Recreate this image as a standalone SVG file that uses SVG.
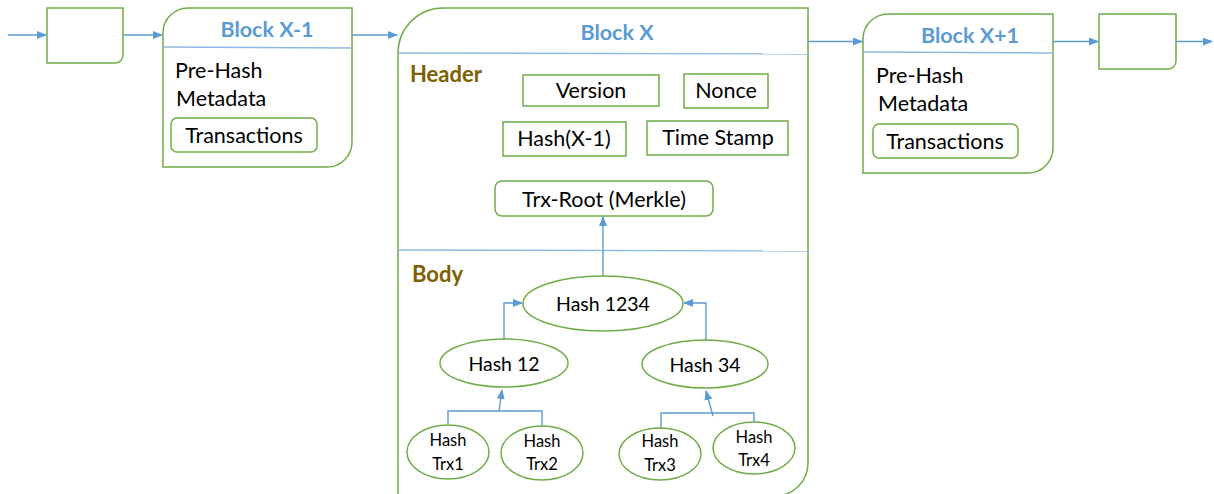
<svg xmlns="http://www.w3.org/2000/svg" width="1214" height="494" viewBox="0 0 1214 494">
<style>
.box{fill:#fff;stroke:#70AD47;stroke-width:1.5}
.conn{fill:none;stroke:#5B9BD5;stroke-width:1.4}
.sep{fill:none;stroke:#8DB9E2;stroke-width:1.4}
.t{font-family:Lato,"Open Sans",sans-serif;fill:#000}
.title{font-family:Lato,"Open Sans",sans-serif;font-weight:bold;font-size:21.5px;fill:#5B9BD5;text-anchor:middle}
.sec{font-family:Lato,"Open Sans",sans-serif;font-weight:bold;font-size:22px;fill:#7F6000}
.m{text-anchor:middle}
</style>
<defs>
<marker id="ah" markerUnits="userSpaceOnUse" markerWidth="10" markerHeight="8" refX="9" refY="4" orient="auto">
<path d="M0,0 L10,4 L0,8 Z" fill="#5B9BD5"/>
</marker>
</defs>
<g id="connectors">
<line class="conn" x1="8" y1="35" x2="46" y2="35" marker-end="url(#ah)"/>
<line class="conn" x1="123" y1="35" x2="162" y2="35" marker-end="url(#ah)"/>
<line class="conn" x1="352" y1="35" x2="397" y2="35" marker-end="url(#ah)"/>
<line class="conn" x1="808" y1="41.5" x2="862" y2="41.5" marker-end="url(#ah)"/>
<line class="conn" x1="1053" y1="41.5" x2="1098" y2="41.5" marker-end="url(#ah)"/>
<line class="conn" x1="1176" y1="41.5" x2="1212" y2="41.5" marker-end="url(#ah)"/>
</g>
<g id="block-prev2">
<path class="box" d="M47,8 H123 V55 A8,8 0 0 1 115,63 H47 Z"/>
</g>
<g id="block-x-1">
<path class="box" d="M163,33 A25,25 0 0 1 188,8 H352 V142 A25,25 0 0 1 327,167 H163 Z"/>
<line class="sep" x1="163" y1="47" x2="352" y2="48"/>
<text class="title" x="267" y="37">Block X-1</text>
<text class="t" x="175" y="78" font-size="21.5">Pre-Hash</text>
<text class="t" x="176" y="106" font-size="21.5">Metadata</text>
<rect class="box" x="171" y="118" width="146" height="34" rx="6"/>
<text class="t m" x="244" y="143" font-size="21.5">Transactions</text>
</g>
<g id="block-x">
<path class="box" d="M398,53 A45,45 0 0 1 443,8 H808 V463 A33,33 0 0 1 775,496 H398 Z"/>
<line class="sep" x1="398" y1="53" x2="808" y2="54"/>
<line class="sep" x1="398" y1="250" x2="808" y2="251"/>
<text class="title" x="617" y="40">Block X</text>
<text class="sec" x="410" y="82">Header</text>
<text class="sec" x="412" y="282">Body</text>
</g>
<g id="version">
<rect class="box" x="523" y="75" width="136" height="31"/>
<text class="t m" x="591" y="98" font-size="21.5">Version</text>
</g>
<g id="nonce">
<rect class="box" x="684" y="74" width="84" height="34"/>
<text class="t m" x="726" y="98" font-size="21.5">Nonce</text>
</g>
<g id="hash-x-1">
<rect class="box" x="503" y="122" width="123" height="34"/>
<text class="t m" x="564" y="146" font-size="21.5">Hash(X-1)</text>
</g>
<g id="time-stamp">
<rect class="box" x="647" y="121" width="141" height="34"/>
<text class="t m" x="718" y="145" font-size="21.5">Time Stamp</text>
</g>
<g id="trx-root">
<rect class="box" x="495" y="181" width="218" height="35" rx="7"/>
<text class="t m" x="604" y="207" font-size="21.5">Trx-Root (Merkle)</text>
</g>
<g id="merkle-connectors">
<line class="conn" x1="603" y1="276" x2="603" y2="217" marker-end="url(#ah)"/>
<polyline class="conn" points="504,339 504,303 522,303" marker-end="url(#ah)"/>
<polyline class="conn" points="706,340 706,303 684,303" marker-end="url(#ah)"/>
<polyline class="conn" points="448,424 448,411 542,411 542,427"/>
<line class="conn" x1="499" y1="411" x2="502" y2="390" marker-end="url(#ah)"/>
<polyline class="conn" points="661,428 661,413 754,413 754,422"/>
<line class="conn" x1="713" y1="416" x2="706" y2="391" marker-end="url(#ah)"/>
</g>
<g id="hash-1234">
<ellipse class="box" cx="603" cy="303.5" rx="80" ry="27.5"/>
<text class="t m" x="603" y="311" font-size="19.5">Hash 1234</text>
</g>
<g id="hash-12">
<ellipse class="box" cx="504" cy="363" rx="64" ry="24"/>
<text class="t m" x="504" y="371" font-size="19.5">Hash 12</text>
</g>
<g id="hash-34">
<ellipse class="box" cx="705" cy="364" rx="63" ry="24"/>
<text class="t m" x="705" y="372" font-size="19.5">Hash 34</text>
</g>
<g id="hash-trx1">
<ellipse class="box" cx="448" cy="452" rx="41" ry="27"/>
<text class="t m" x="448" y="446" font-size="16.5">Hash</text>
<text class="t m" x="448" y="470" font-size="16.5">Trx1</text>
</g>
<g id="hash-trx2">
<ellipse class="box" cx="542" cy="453" rx="41" ry="27"/>
<text class="t m" x="542" y="447" font-size="16.5">Hash</text>
<text class="t m" x="542" y="470" font-size="16.5">Trx2</text>
</g>
<g id="hash-trx3">
<ellipse class="box" cx="660" cy="454" rx="41" ry="26"/>
<text class="t m" x="660" y="447" font-size="16.5">Hash</text>
<text class="t m" x="660" y="471" font-size="16.5">Trx3</text>
</g>
<g id="hash-trx4">
<ellipse class="box" cx="754" cy="448" rx="41" ry="26"/>
<text class="t m" x="754" y="443" font-size="16.5">Hash</text>
<text class="t m" x="754" y="466" font-size="16.5">Trx4</text>
</g>
<g id="block-x1">
<path class="box" d="M863,39 A25,25 0 0 1 888,14 H1053 V148 A25,25 0 0 1 1028,173 H863 Z"/>
<line class="sep" x1="863" y1="52" x2="1053" y2="53"/>
<text class="title" x="970" y="43">Block X+1</text>
<text class="t" x="876" y="83" font-size="21.5">Pre-Hash</text>
<text class="t" x="878" y="111" font-size="21.5">Metadata</text>
<rect class="box" x="873" y="124" width="145" height="34" rx="6"/>
<text class="t m" x="945" y="149" font-size="21.5">Transactions</text>
</g>
<g id="block-next2">
<path class="box" d="M1099,14 H1176 V61 A8,8 0 0 1 1168,69 H1099 Z"/>
</g>
</svg>
